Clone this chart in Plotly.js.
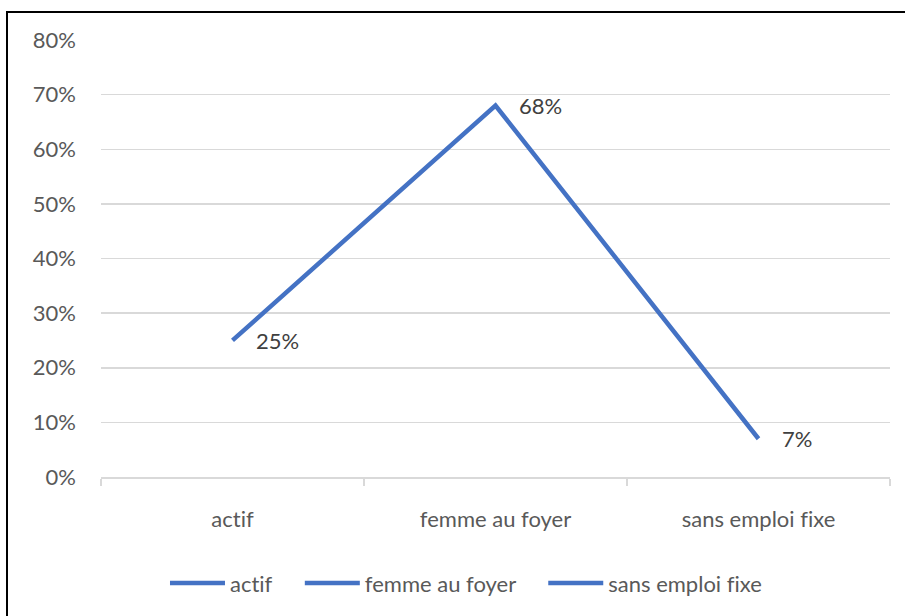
<!DOCTYPE html>
<html>
<head>
<meta charset="utf-8">
<script src="https://cdn.plot.ly/plotly-3.0.1.min.js"></script>
<style>
  html, body { margin: 0; padding: 0; background: #fff; }
  #wrap { position: relative; width: 905px; height: 616px; overflow: hidden; }
  #chart { position: absolute; left: 0; top: 0; width: 905px; height: 616px; }
  #chart text { font-variant-ligatures: none; font-feature-settings: "liga" 0; }
  #frame { position: absolute; left: 6px; top: 11px; right: -10px; bottom: -10px;
           border-top: 2px solid #000; border-left: 2px solid #000; pointer-events: none; }
</style>
</head>
<body>
<div id="wrap">
  <div id="chart"></div>
  <div id="frame"></div>
</div>
<script>
const categories = ["actif", "femme au foyer", "sans emploi fixe"];
const values = [25, 68, 7];
const yTicks = [0, 10, 20, 30, 40, 50, 60, 70, 80];

const lineColor = "#4472C4";
const fontFamily = "Lato, 'Open Sans', sans-serif";
const pad = "\u00a0\u00a0\u00a0\u00a0";

const traces = [{
  type: "scatter",
  mode: "lines",
  x: categories,
  y: values,
  line: { color: lineColor, width: 4.5 },
  showlegend: false,
  hoverinfo: "skip"
}];
categories.forEach(function (c, i) {
  traces.push({
    type: "scatter",
    mode: "lines",
    x: [c],
    y: [null],
    name: i < categories.length - 1 ? c + pad : c,
    line: { color: lineColor, width: 4.5 },
    showlegend: true
  });
});

const annotations = categories.map(function (c, i) {
  return {
    x: c, y: values[i], xref: "x", yref: "y",
    text: values[i] + "%",
    showarrow: false,
    xanchor: "left", yanchor: "middle",
    xshift: 21,
    font: { family: fontFamily, size: 22, color: "#404040" }
  };
});

const layout = {
  width: 905, height: 616,
  margin: { l: 101, r: 15, t: 40, b: 136 },
  paper_bgcolor: "#fff", plot_bgcolor: "#fff",
  font: { family: fontFamily, size: 22, color: "#595959" },
  xaxis: {
    type: "category",
    categoryorder: "array", categoryarray: categories,
    range: [-0.5, 2.5], autorange: false,
    showgrid: false,
    showline: true, linecolor: "#d9d9d9", linewidth: 1.5,
    ticks: "outside", tickson: "boundaries", ticklen: 7, tickcolor: "#d9d9d9", tickwidth: 1.5,
    ticklabelstandoff: 22,
    tickfont: { family: fontFamily, size: 22, color: "#595959" },
    fixedrange: true
  },
  yaxis: {
    range: [0, 80],
    tickvals: yTicks,
    ticktext: yTicks.map(function (v) { return v + "%"; }),
    showgrid: true, gridcolor: "#d9d9d9", gridwidth: 1.5,
    zeroline: false, showline: false,
    ticks: "", ticklabelstandoff: 24,
    tickfont: { family: fontFamily, size: 22, color: "#595959" },
    fixedrange: true
  },
  legend: {
    orientation: "h",
    x: 0.4626, xanchor: "center",
    y: -0.243, yanchor: "middle",
    itemwidth: 55,
    font: { family: fontFamily, size: 22, color: "#595959" },
    bgcolor: "rgba(0,0,0,0)"
  },
  annotations: annotations,
  showlegend: true
};

Plotly.newPlot("chart", traces, layout, { displayModeBar: false, staticPlot: true });
</script>
</body>
</html>
